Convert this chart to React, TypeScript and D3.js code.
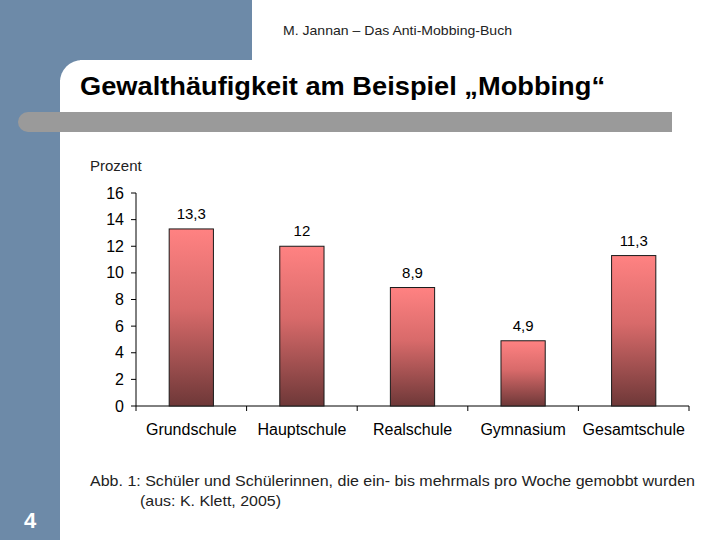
import React from "react";
import * as d3 from "d3";

const categories = ["Grundschule", "Hauptschule", "Realschule", "Gymnasium", "Gesamtschule"];
const values = [13.3, 12, 8.9, 4.9, 11.3];
const valueLabels = ["13,3", "12", "8,9", "4,9", "11,3"];
const yTicks = [0, 2, 4, 6, 8, 10, 12, 14, 16];

const W = 720, H = 540;
const plot = { left: 136, right: 689, top: 193, bottom: 406 };

export default function App() {
  const x = d3.scaleBand<string>().domain(categories).range([plot.left, plot.right]).paddingInner(0.6).paddingOuter(0.3);
  const y = d3.scaleLinear().domain([0, 16]).range([plot.bottom, plot.top]);
  const step = (plot.right - plot.left) / categories.length;
  const font = "'Liberation Sans', Arial, sans-serif";
  const blue = "#6d8aa8";
  return (
    <svg width={W} height={H} style={{ position: "absolute", left: 0, top: 0 }} fontFamily={font}>
      <defs>
        <linearGradient id="barGrad" x1="0" y1="0" x2="0" y2="1">
          <stop offset="0" stopColor="#ff8282" />
          <stop offset="0.45" stopColor="#d86a6a" />
          <stop offset="1" stopColor="#6e3838" />
        </linearGradient>
      </defs>
      <rect x={0} y={0} width={W} height={H} fill="#ffffff" />
      <rect x={0} y={0} width={60} height={H} fill={blue} />
      <rect x={0} y={0} width={252} height={84} fill={blue} />
      <rect x={60} y={60} width={W} height={H} rx={22} ry={22} fill="#ffffff" />
      <rect x={60} y={80} width={W} height={H} fill="#ffffff" />
      <rect x={80} y={60} width={W} height={H} fill="#ffffff" />
      <rect x={18} y={112} width={654} height={20} rx={10} ry={10} fill="#9a9a9a" />
      <rect x={40} y={112} width={632} height={20} fill="#9a9a9a" />
      <text x={283} y={35} fontSize={13.5} textLength={229} lengthAdjust="spacingAndGlyphs" fill="#222">M. Jannan – Das Anti-Mobbing-Buch</text>
      <text x={80} y={95} fontSize={25} fontWeight="bold" textLength={525} lengthAdjust="spacingAndGlyphs" fill="#000">Gewalthäufigkeit am Beispiel „Mobbing“</text>
      <text x={90} y={171} fontSize={15} fill="#222">Prozent</text>

      {/* y axis */}
      <line x1={plot.left} x2={plot.left} y1={plot.top} y2={plot.bottom} stroke="#000" strokeWidth={1} />
      {yTicks.map(t => (
        <g key={t}>
          <line x1={plot.left - 5} x2={plot.left} y1={y(t)} y2={y(t)} stroke="#000" />
          <text x={124} y={y(t)} dy="0.35em" textAnchor="end" fontSize={16} fill="#000">{t}</text>
        </g>
      ))}
      {/* x axis */}
      <line x1={plot.left} x2={plot.right} y1={plot.bottom} y2={plot.bottom} stroke="#000" />
      {d3.range(categories.length + 1).map(i => (
        <line key={i} x1={plot.left + i * step} x2={plot.left + i * step} y1={plot.bottom} y2={plot.bottom + 5} stroke="#000" />
      ))}
      {categories.map((c, i) => (
        <g key={c}>
          <rect x={x(c)} y={y(values[i])} width={x.bandwidth()} height={y(0) - y(values[i])} fill="url(#barGrad)" stroke="#1a1a1a" strokeWidth={1} />
          <text x={(x(c) as number) + x.bandwidth() / 2} y={y(values[i]) - 10} textAnchor="middle" fontSize={15} fill="#000">{valueLabels[i]}</text>
          <text x={(x(c) as number) + x.bandwidth() / 2} y={435} textAnchor="middle" fontSize={16} fill="#000">{c}</text>
        </g>
      ))}

      <text x={90} y={486} fontSize={15} textLength={605} lengthAdjust="spacingAndGlyphs" fill="#222">Abb. 1: Schüler und Schülerinnen, die ein- bis mehrmals pro Woche gemobbt wurden</text>
      <text x={140} y={506} fontSize={15} textLength={141} lengthAdjust="spacingAndGlyphs" fill="#222">(aus: K. Klett, 2005)</text>
      <text x={30} y={528} textAnchor="middle" fontSize={22} fontWeight="bold" fill="#fff">4</text>
    </svg>
  );
}
